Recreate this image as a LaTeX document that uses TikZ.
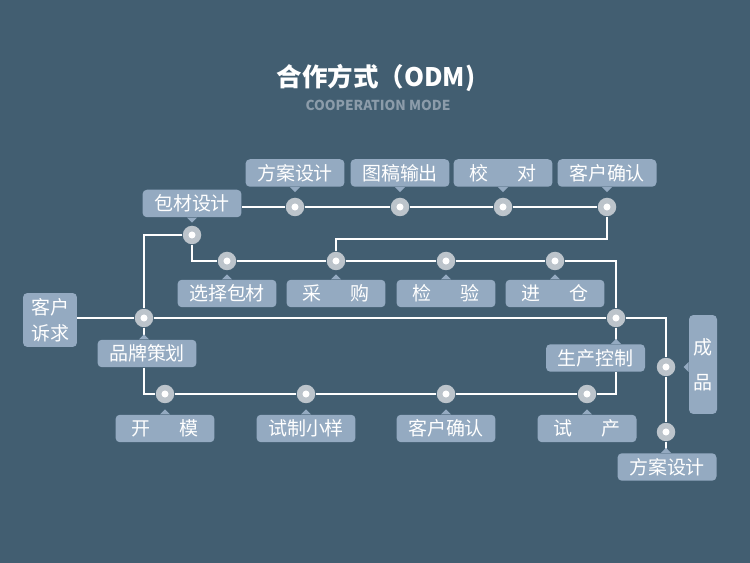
\documentclass[tikz,border=0pt]{standalone}
\usepackage{fontspec}
\setmainfont{Noto Sans CJK SC}
\usetikzlibrary{positioning}
\definecolor{bgc}{RGB}{66,94,113}
\definecolor{tagc}{RGB}{148,170,193}
\definecolor{dotc}{RGB}{188,196,203}
\definecolor{subc}{RGB}{140,156,170}

\begin{document}
\begin{tikzpicture}[x=0.02cm, y=-0.02cm,
    tag/.style={rectangle, fill=tagc, rounded corners=2.5pt, text=white, minimum width=1.98cm, minimum height=0.55cm, inner sep=0pt, font=\fontsize{10.8}{13}\selectfont},
    tall/.style={tag, minimum width=1.08cm, minimum height=1.08cm, align=center},
    dot/.style={circle, fill=dotc, minimum size=0.37cm, inner sep=0pt, path picture={\fill[white] (path picture bounding box.center) circle (2pt);}},
    wire/.style={white, line width=0.9pt}
]

% background
\path[use as bounding box, fill=bgc] (0,0) rectangle (750,563);

% title
\node[font=\fontsize{14.5}{17}\selectfont\bfseries, text=white] (title) at (376,78) {合作方式（ODM)};
\node[font=\fontsize{7.8}{9}\selectfont\bfseries, text=subc] (sub) at (378,105) {COOPERATION MODE};

% top row - design steps
\node[tag] (a1) at (295,173) {方案设计};
\node[tag] (a2) at (400,173) {图稿输出};
\node[tag] (a3) at (503,173) {校\hspace{1.5em}对};
\node[tag] (a4) at (607,173) {客户确认};
\node[tag] (pkg) at (192,203.5) {包材设计};

\node[dot] (t1) at (295,207) {};
\node[dot] (t2) at (400,207) {};
\node[dot] (t3) at (503,207) {};
\node[dot] (t4) at (607,207) {};
\node[dot] (p0) at (192,235) {};

% second row - purchasing
\node[dot] (c1) at (227,261) {};
\node[dot] (c2) at (336,261) {};
\node[dot] (c3) at (446,261) {};
\node[dot] (c4) at (555,261) {};

\node[tag] (r1) at (227,293.5) {选择包材};
\node[tag] (r2) at (336,293.5) {采\hspace{1.5em}购};
\node[tag] (r3) at (446,293.5) {检\hspace{1.5em}验};
\node[tag] (r4) at (555,293.5) {进\hspace{1.5em}仓};

% main line
\node[tall, font=\fontsize{10.8}{15}\selectfont] (ask) at (50,320) {客户\\诉求};
\node[dot] (b1) at (144,318) {};
\node[dot] (s1) at (616,318) {};
\node[dot] (f1) at (666,367) {};
\node[dot] (f2) at (666,432) {};

\node[tag] (brand) at (147,353.5) {品牌策划};
\node[tag] (prod) at (595.5,358) {生产控制};
\node[tall, minimum width=0.56cm, minimum height=1.98cm, font=\fontsize{10.8}{20}\selectfont] (done) at (703,364.5) {成\\品};
\node[tag] (plan) at (667,467) {方案设计};

% bottom row - samples
\node[dot] (d1) at (165,394) {};
\node[dot] (d2) at (306,394) {};
\node[dot] (d3) at (446,394) {};
\node[dot] (d4) at (587,394) {};

\node[tag] (e1) at (165,428.5) {开\hspace{1.5em}模};
\node[tag] (e2) at (306,428.5) {试制小样};
\node[tag] (e3) at (446,428.5) {客户确认};
\node[tag] (e4) at (587,428.5) {试\hspace{1.5em}产};

% wires
\draw[wire] (pkg.east |- t1) -- (t1) -- (t2) -- (t3) -- (t4);
\draw[wire] (t4) -- ++(0,32) -| (c2);
\draw[wire] (p0) -| (b1);
\draw[wire] (p0) |- (c1) -- (c2) -- (c3) -- (c4) -| (s1);
\draw[wire] (ask.east |- b1) -- (b1) -- (s1) -| (f1);
\draw[wire] (f1) -- (f2) -- (f2 |- plan.north);
\draw[wire] (b1) -- (b1 |- brand.north);
\draw[wire] (s1) -- (s1 |- prod.north);
\draw[wire] (b1 |- brand.south) |- (d1);
\draw[wire] (d1) -- (d2) -- (d3) -- (d4) -| (s1 |- prod.south);

% pointers
\foreach \b/\c in {a1/t1, a2/t2, a3/t3, a4/t4, pkg/p0}
  \fill[tagc] (\c |- \b.south) ++(-5,0) -- ++(10,0) -- ++(-5,5) -- cycle;
\foreach \b/\c in {r1/c1, r2/c2, r3/c3, r4/c4, brand/b1, prod/s1, e1/d1, e2/d2, e3/d3, e4/d4, plan/f2}
  \fill[tagc] (\c |- \b.north) ++(-5,0) -- ++(10,0) -- ++(-5,-5) -- cycle;
\fill[tagc] (f1 -| done.west) ++(0,-5) -- ++(0,10) -- ++(-5,-5) -- cycle;

\end{tikzpicture}
\end{document}
